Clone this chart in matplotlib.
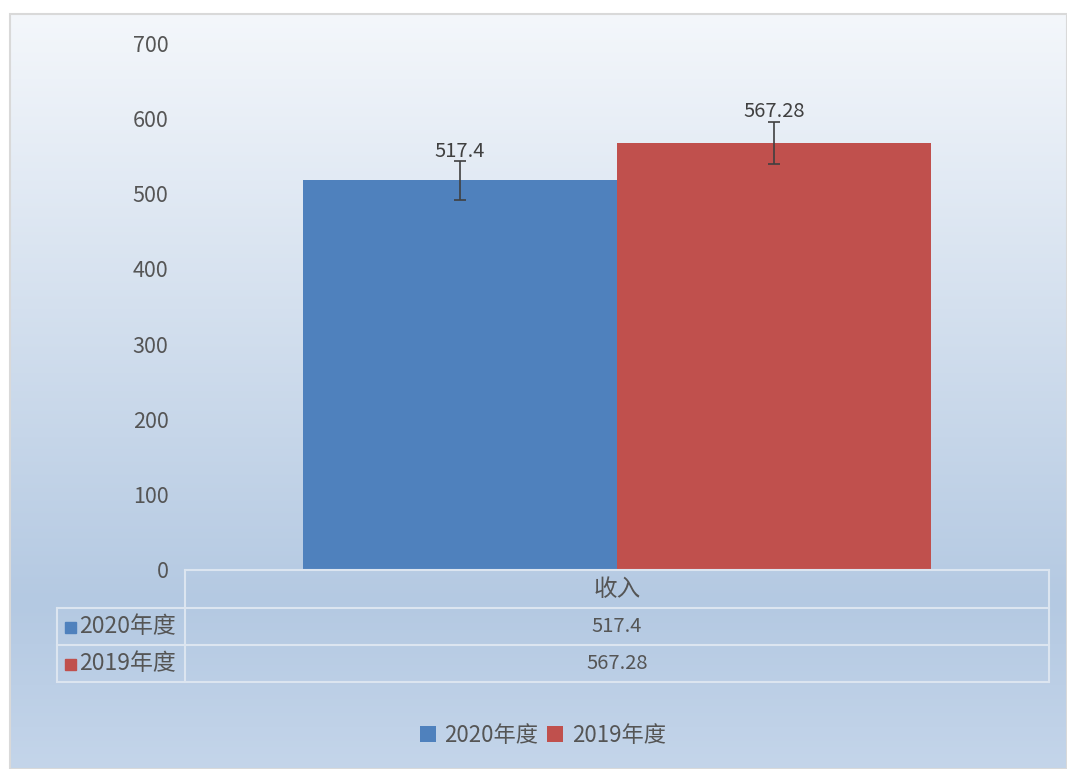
import numpy as np
import matplotlib
matplotlib.use("Agg")
import matplotlib.pyplot as plt
from matplotlib.patches import Patch, Rectangle

plt.rcParams['font.family'] = ['Noto Sans CJK SC', 'DejaVu Sans']

# ---- data ----
category = "收入"
series_names = ["2020年度", "2019年度"]
series_values = [517.4, 567.28]
value_labels = ["517.4", "567.28"]
y_ticks = [0, 100, 200, 300, 400, 500, 600, 700]
colors = ["#4F81BD", "#C0504D"]
err_pct = 0.05

W, H = 1067, 769
fig = plt.figure(figsize=(W / 100, H / 100), dpi=100)
fig.patch.set_facecolor("white")

def fx(px):
    return px / W

def fy(py):
    return 1 - py / H

txt = "#555555"

# ---- gradient background of chart area ----
bg = fig.add_axes([fx(10), 0, 1 - fx(10), fy(14)], zorder=0)
top = np.array([0xF4, 0xF7, 0xFB]) / 255
mid = np.array([0xB4, 0xC9, 0xE2]) / 255
bot = np.array([0xC4, 0xD5, 0xEA]) / 255
n = 400
t = np.linspace(0, 1, n)
grad = np.zeros((n, 1, 3))
for i, tt in enumerate(t):
    if tt < 0.78:
        c = top + (mid - top) * (tt / 0.78)
    else:
        c = mid + (bot - mid) * ((tt - 0.78) / 0.22)
    grad[i, 0] = c
bg.imshow(grad, aspect="auto", extent=[0, 1, 0, 1], origin="upper")
bg.set_xlim(0, 1)
bg.set_ylim(0, 1)
bg.axis("off")
bg.add_patch(Rectangle((0, 0), 1, 1, fill=False, edgecolor="#D9D9D9", linewidth=1.5,
                       transform=bg.transAxes, clip_on=False))

# ---- main axes ----
ax = fig.add_axes([fx(185), fy(570), fx(1049 - 185), (570 - 43) / H], zorder=2)
ax.patch.set_alpha(0)
w = 314 / 864
offsets = [-w / 2, w / 2]
for i, (name, v) in enumerate(zip(series_names, series_values)):
    ax.bar(offsets[i], v, width=w, color=colors[i], zorder=2)
    ax.errorbar(offsets[i], v, yerr=v * err_pct, color="#404040", capsize=4,
                elinewidth=1.2, capthick=1.2, zorder=3)
    ax.annotate(value_labels[i], (offsets[i], v * (1 + err_pct)), xytext=(0, 7),
                textcoords="offset points", ha="center", va="center",
                fontsize=14.5, color="#404040", zorder=4)
ax.set_xlim(-0.5, 0.5)
ax.set_ylim(0, 700)
ax.set_yticks(y_ticks)
ax.set_yticklabels([str(t) for t in y_ticks], fontsize=15.5, color=txt)
ax.tick_params(axis="y", length=0, pad=12)
ax.set_xticks([])
for s in ax.spines.values():
    s.set_visible(False)

# ---- data table ----
tab = fig.add_axes([0, 0, 1, 1], zorder=3)
tab.set_xlim(0, W)
tab.set_ylim(H, 0)
tab.axis("off")
lc = "#DCE5F0"
lw = 1.5
x0, x1, x2 = 57, 185, 1049
y0, y1, y2, y3 = 570, 608, 645, 682
tab.plot([x1, x2], [y0, y0], color=lc, lw=lw)
for yy in (y1, y2, y3):
    tab.plot([x0, x2], [yy, yy], color=lc, lw=lw)
tab.plot([x1, x1], [y0, y3], color=lc, lw=lw)
tab.plot([x2, x2], [y0, y3], color=lc, lw=lw)
tab.plot([x0, x0], [y1, y3], color=lc, lw=lw)
xc = (x1 + x2) / 2
tab.text(xc, (y0 + y1) / 2, category, ha="center", va="center", fontsize=17, color=txt)
rows = [(y1, y2), (y2, y3)]
for i, (ra, rb) in enumerate(rows):
    yc = (ra + rb) / 2
    tab.text(xc, yc, value_labels[i], ha="center", va="center", fontsize=14.5, color=txt)
    tab.add_patch(Rectangle((65, yc - 5), 11, 11, color=colors[i]))
    tab.text(79, yc, series_names[i], ha="left", va="center", fontsize=16.5, color=txt)

# ---- legend ----
handles = [Patch(facecolor=c, edgecolor="none") for c in colors]
fig.legend(handles, series_names, loc="center", bbox_to_anchor=(fx(543), fy(735)),
           ncol=2, frameon=False, fontsize=16, handlelength=0.7, handleheight=0.7,
           handletextpad=0.4, columnspacing=0.4, labelcolor=txt)

fig.savefig("out.png", dpi=100)
